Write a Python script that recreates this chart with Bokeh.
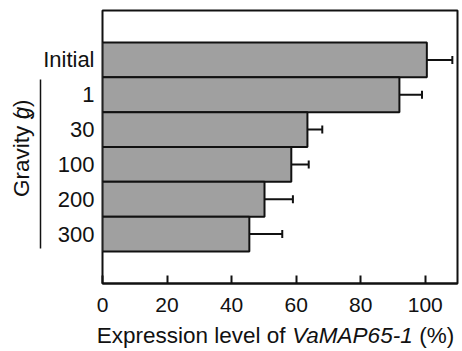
import math
from bokeh.plotting import figure
from bokeh.layouts import row, column
from bokeh.models import (ColumnDataSource, Range1d, FixedTicker,
                          Whisker, TeeHead, LinearAxis)
from bokeh.core.properties import value
from bokeh.embed import file_html
from bokeh.resources import INLINE

# ---- data (top to bottom as in the chart) ----
groups = ["Initial", "1", "30", "100", "200", "300"]
expression = [100.5, 92.0, 63.5, 58.5, 50.2, 45.5]
error = [7.9, 7.0, 4.6, 5.4, 8.8, 10.2]
x_ticks = [0, 20, 40, 60, 80, 100]
# title pieces: (text, style, space before piece)
x_title = [("Expression level of", "normal", False), ("VaMAP65-1", "italic", True),
           ("(%)", "normal", True)]
y_title = [("Gravity (", "normal", False), ("g", "italic", False), (")", "normal", False)]

FONT = "Liberation Sans"
INK = "#111111"
TOTAL_W, TOTAL_H = 460, 351
LEFT_W = 38                      # strip holding the rotated title
MAIN_H = 323
BOTTOM_H = TOTAL_H - MAIN_H
PAD = 0.92
TS = 22.5                        # title font size
ASC, DESC = 0.905, 0.212         # Liberation Sans font metrics (em)
MID = (ASC - DESC) / 2 * TS      # baseline -> middle of text box

# Arial / Liberation Sans advance widths (1/1000 em)
ADV = {' ': 278, '(': 333, ')': 333, '%': 889, '-': 333, '0': 556, '1': 556, '5': 556,
       '6': 556, 'E': 667, 'x': 500, 'p': 556, 'r': 333, 'e': 556, 's': 500, 'i': 222,
       'o': 556, 'n': 556, 'l': 222, 'v': 500, 'f': 278, 'V': 667, 'a': 556, 'M': 833,
       'A': 667, 'P': 667, 'G': 778, 't': 278, 'y': 500, 'g': 556}


def tw(s, size):
    return sum(ADV[c] for c in s) * size / 1000.0


def blank_fig(w, h):
    f = figure(width=w, height=h, x_range=Range1d(0, w), y_range=Range1d(0, h),
               x_axis_type=None, y_axis_type=None, output_backend="svg",
               toolbar_location=None, min_border=0)
    f.grid.visible = False
    f.outline_line_color = None
    f.background_fill_color = "white"
    f.border_fill_color = "white"
    return f


n = len(groups)
ypos = [n - i - 0.5 for i in range(n)]  # category slots, first group on top

src = ColumnDataSource(data=dict(
    y=ypos,
    expression=expression,
    lower=[v - e for v, e in zip(expression, error)],
    upper=[v + e for v, e in zip(expression, error)],
))

# ---------------- main chart ----------------
p = figure(width=TOTAL_W - LEFT_W, height=MAIN_H,
           y_range=Range1d(-PAD, n + PAD),
           x_range=Range1d(0, 110),
           output_backend="svg", toolbar_location=None,
           min_border_left=102 - LEFT_W, min_border_right=3,
           min_border_top=10, min_border_bottom=MAIN_H - 283)

p.hbar(y="y", left=0, right="expression", height=1.0, source=src,
       fill_color="#a0a0a0", line_color=INK, line_width=2)

wh = Whisker(source=src, base="y", lower="lower", upper="upper",
             dimension="width", line_color=INK, line_width=2,
             upper_head=TeeHead(size=8, line_color=INK, line_width=2),
             lower_head=TeeHead(size=8, line_color=INK, line_width=2))
p.add_layout(wh)

p.grid.visible = False
p.outline_line_color = INK
p.outline_line_width = 2
p.background_fill_color = "white"
p.border_fill_color = "white"

xa = p.xaxis[0]
xa.ticker = FixedTicker(ticks=x_ticks)
xa.major_tick_in = 8
xa.major_tick_out = 0
xa.major_tick_line_width = 2
xa.major_tick_line_color = INK
xa.minor_tick_line_color = None
xa.axis_line_width = 2
xa.axis_line_color = INK
xa.major_label_text_font = FONT
xa.major_label_text_font_size = "21px"
xa.major_label_text_color = INK
xa.major_label_standoff = 14

ya = p.yaxis[0]
ya.ticker = FixedTicker(ticks=ypos)
ya.major_label_overrides = {y: g for y, g in zip(ypos, groups)}
ya.axis_line_color = None
ya.major_tick_line_color = None
ya.major_tick_out = 0
ya.major_tick_in = 0
ya.minor_tick_line_color = None
ya.major_label_text_font = FONT
ya.major_label_text_font_size = "22px"
ya.major_label_text_color = INK
ya.major_label_standoff = 8

# bracket line grouping the gravity levels
ga = LinearAxis(bounds=(0.08, 4.94),
                ticker=FixedTicker(ticks=[]),
                major_tick_line_color=None, minor_tick_line_color=None,
                major_tick_out=0, major_tick_in=0, major_label_standoff=0,
                major_label_text_color=None,
                axis_line_color=INK, axis_line_width=1.5)
p.add_layout(ga, "left")

# ---------------- rotated y title strip (pieces centred on their own boxes) ----------------
left = blank_fig(LEFT_W, MAIN_H)
start = 213.0                      # page y where the title begins (bottom end)
baseline_x = 28.5
extra = [0.0, 0.5, 1.5]
for (s, style, sp), e in zip(y_title, extra):
    start -= e + (tw(" ", TS) if sp else 0.0)
    w = tw(s, TS)
    cy_page = start - w / 2
    left.text(x=[baseline_x - MID], y=[MAIN_H - cy_page], text=[s], angle=math.pi / 2,
              text_font=value(FONT), text_font_size=value(f"{TS}px"),
              text_font_style=style, text_color=INK,
              text_align="center", text_baseline="middle")
    start -= w

# ---------------- x title strip ----------------
bottom = blank_fig(TOTAL_W, BOTTOM_H)
total = sum(tw(s, TS) + (tw(" ", TS) if sp else 0.0) for s, _, sp in x_title)
tx = 275.0 - total / 2
baseline_page = 343.0
for s, style, sp in x_title:
    if sp:
        tx += tw(" ", TS)
    w = tw(s, TS)
    bottom.text(x=[tx + w / 2], y=[TOTAL_H - (baseline_page - MID)], text=[s],
                text_font=value(FONT), text_font_size=value(f"{TS}px"),
                text_font_style=style, text_color=INK,
                text_align="center", text_baseline="middle")
    tx += w

layout = column(row(left, p, spacing=0), bottom, spacing=0)

open("out.html", "w").write(file_html(layout, INLINE))
